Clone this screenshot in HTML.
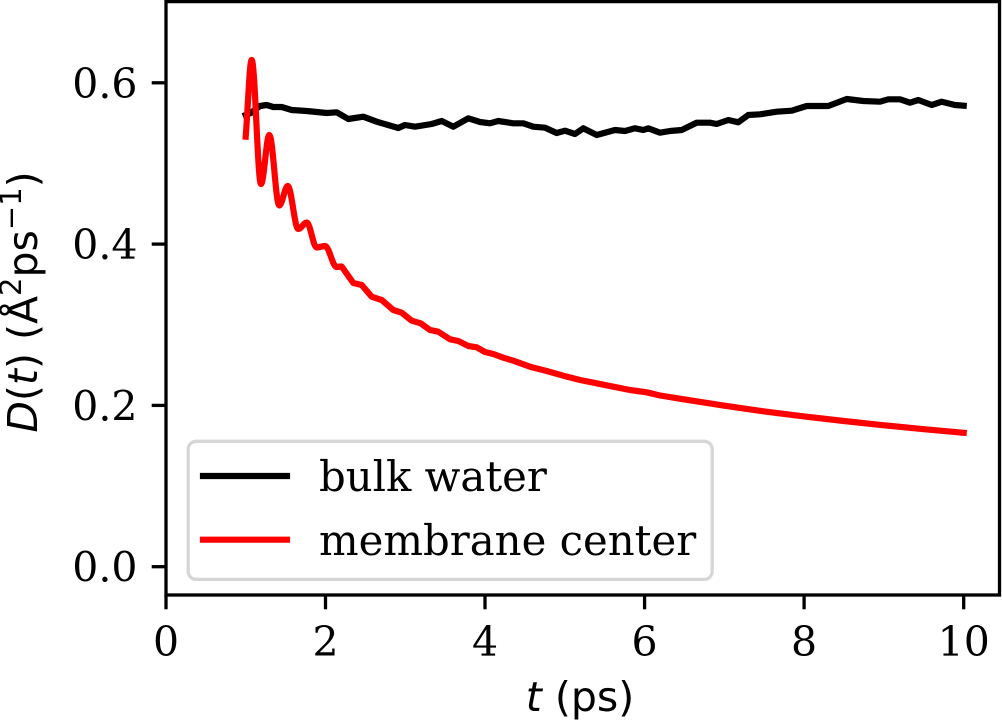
<!DOCTYPE html>
<html>
<head>
<meta charset="utf-8">
<style>
html,body{margin:0;padding:0;background:#fff;}
svg{display:block;}
.tick{font-family:"DejaVu Serif","Liberation Serif",serif;font-size:41px;fill:#000;}
.leg{font-family:"DejaVu Serif","Liberation Serif",serif;font-size:41.8px;fill:#000;}
.lab{font-family:"DejaVu Sans","Liberation Sans",sans-serif;font-size:41px;fill:#000;}
</style>
</head>
<body>
<svg width="1002" height="722" viewBox="0 0 1002 722" xmlns="http://www.w3.org/2000/svg">
<rect x="0" y="0" width="1002" height="722" fill="#fff"/>

<!-- black: bulk water -->
<polyline fill="none" stroke="#000" stroke-width="6.2" stroke-linejoin="round" stroke-linecap="square"
points="245.7,115 250.7,113 260,106 266.7,105 273.3,107 281.7,107 291.7,110 306.7,111 326.7,113 336.7,112.3 348.3,119 363.3,116.7 376.7,121.7 398.3,128 405,125 415,126.7 431.7,124 441.7,121 453.3,126.7 468.3,118.3 480,122 490,123.3 498.3,121 513.3,123.3 523.3,123.3 533.3,126.7 545,127.7 556.7,133 565,130.7 575,134 583.3,128.3 596.7,135 615,130 625,131 635,128.3 643.3,130 648.3,128.3 660,132.7 670,131 681.7,130 696.7,122.7 710,122.7 716.7,124 728.3,120 738.3,122.3 748.3,115 760,114.3 776.7,111.7 791.7,110.7 806.7,106 828.3,106 846.7,99 863.3,101 880,101.7 888.3,99.3 900,99.3 910,102.7 918.3,100 931.7,105 941.7,101.7 955,105 963.7,105.7"/>

<!-- red: membrane center -->
<path fill="none" stroke="#ff0000" stroke-width="6.2" stroke-linejoin="round" stroke-linecap="square"
d="M245.7,136.7 C247.9,110 249.5,60 251.7,60
C255.05,60 257.65,184 261,184
C264,184 266.3,135 269.3,135
C272.9,135 275.7,205.5 279.3,205.5
C282.3,205.5 284.7,186 287.7,186
C291.5,186 294.5,229 298.3,229
C301.3,229 303.7,222.5 306.7,222.5
C310.3,222.5 313.1,247.5 316.7,247.5
C319.7,247.5 322,246 325,246
C329.2,246 332.5,267 336.7,267
L341.7,266.5 L353.3,283 L361.7,285 L371.7,296.7 L381.7,300 L393.3,310 L401.7,312.7 L411.7,320.7 L420.7,323.3 L430,330 L438.3,331.7 L450,339.3 L458.3,341 L468.3,346 L476.7,347.3 L485,352 L493.3,354 L503.3,357.7 L513.3,360.7 L530,366.7 L546.7,371 L563.3,375.7 L580,380 L596.7,383.3 L613.3,386.7 L630,390 L646.7,392.3 L660,395.5 L684.5,399.4 L724.4,405.7 L764.3,411.4 L804.2,416.4 L844,421 L884,425.3 L923.8,429.2 L963.7,432.8"/>

<!-- spines -->
<rect x="166" y="1.6" width="833.5" height="593.4" fill="none" stroke="#000" stroke-width="3.3" stroke-linejoin="miter"/>

<!-- x ticks -->
<g stroke="#000" stroke-width="3.3">
<line x1="166" y1="595" x2="166" y2="609.3"/>
<line x1="325.5" y1="595" x2="325.5" y2="609.3"/>
<line x1="485" y1="595" x2="485" y2="609.3"/>
<line x1="644.6" y1="595" x2="644.6" y2="609.3"/>
<line x1="804.1" y1="595" x2="804.1" y2="609.3"/>
<line x1="963.7" y1="595" x2="963.7" y2="609.3"/>
</g>
<g class="tick" text-anchor="middle">
<text x="166" y="656">0</text>
<text x="325.5" y="656">2</text>
<text x="485" y="656">4</text>
<text x="644.6" y="656">6</text>
<text x="804.1" y="656">8</text>
<text x="963.7" y="656">10</text>
</g>

<!-- y ticks -->
<g stroke="#000" stroke-width="3.3">
<line x1="151.7" y1="566.7" x2="166" y2="566.7"/>
<line x1="151.7" y1="405.4" x2="166" y2="405.4"/>
<line x1="151.7" y1="244.1" x2="166" y2="244.1"/>
<line x1="151.7" y1="82.8" x2="166" y2="82.8"/>
</g>
<g class="tick" text-anchor="end">
<text x="137.5" y="581.7">0.0</text>
<text x="137.5" y="420.4">0.2</text>
<text x="137.5" y="259.1">0.4</text>
<text x="137.5" y="97.8">0.6</text>
</g>

<!-- axis labels -->
<text class="lab" x="580" y="711" text-anchor="middle"><tspan font-style="italic">t</tspan> (ps)</text>
<text class="lab" transform="translate(37,302) rotate(-90)" text-anchor="middle"><tspan font-style="italic">D</tspan>(<tspan font-style="italic">t</tspan>) (Å<tspan dy="-16" font-size="29">2</tspan><tspan dy="16">ps</tspan><tspan dy="-16" font-size="29">−1</tspan><tspan dy="16">)</tspan></text>

<!-- legend -->
<rect x="188.2" y="441.3" width="524" height="138.1" rx="8" ry="8" fill="#fff" fill-opacity="0.8" stroke="#d6d6d6" stroke-width="3.3"/>
<line x1="203" y1="476" x2="287" y2="476" stroke="#000" stroke-width="6.2" stroke-linecap="square"/>
<line x1="203" y1="539.7" x2="287" y2="539.7" stroke="#ff0000" stroke-width="6.2" stroke-linecap="square"/>
<text class="leg" x="319" y="491">bulk water</text>
<text class="leg" x="319" y="554.8">membrane center</text>
</svg>
</body>
</html>
